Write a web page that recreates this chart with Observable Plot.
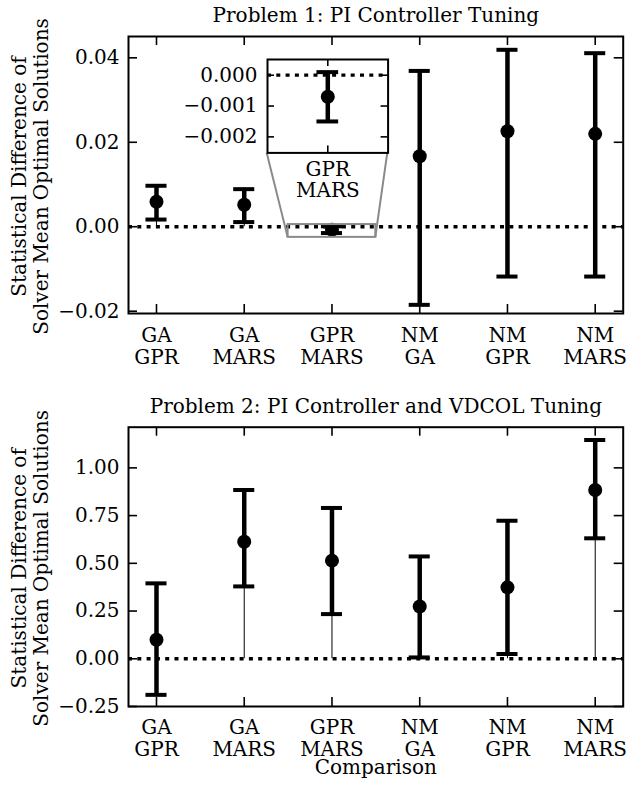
<!DOCTYPE html>
<html>
<head>
<meta charset="utf-8">
<script src="https://cdn.jsdelivr.net/npm/d3@7"></script>
<script src="https://cdn.jsdelivr.net/npm/@observablehq/plot@0.6"></script>
<style>
  body { margin: 0; background: #fff; }
  #wrap { position: relative; width: 629px; height: 789px; overflow: hidden; }
  #wrap svg { display: block; }
  #wrap svg, #wrap svg text { font-family: 'DejaVu Serif', serif !important; }
  #inset { position: absolute; }
</style>
</head>
<body>
<div id="wrap"></div>
<script>
// ---------- data ----------
const categories = ["GA\nGPR", "GA\nMARS", "GPR\nMARS", "NM\nGA", "NM\nGPR", "NM\nMARS"];
const p1Mean  = [0.0059, 0.0052, -0.0007, 0.0167, 0.0226, 0.0220];
const p1Lower = [0.0017, 0.0011, -0.0015, -0.0185, -0.0118, -0.0118];
const p1Upper = [0.0097, 0.0089, 0.0001, 0.0369, 0.0419, 0.0411];
const p2Mean  = [0.100, 0.613, 0.514, 0.274, 0.374, 0.884];
const p2Lower = [-0.189, 0.379, 0.234, 0.007, 0.025, 0.631];
const p2Upper = [0.395, 0.884, 0.790, 0.536, 0.723, 1.146];
const p1Ticks = [-0.02, 0, 0.02, 0.04];
const p2Ticks = [-0.25, 0, 0.25, 0.5, 0.75, 1.0];
const insetTicks = [-0.002, -0.001, 0];
const p1Domain = [-0.02055, 0.04505];
const p2Domain = [-0.25, 1.213];
const xDomain = [-0.319, 5.319];
const insetIndex = 2;
const insetXDomain = [1.5, 2.5];
const insetYDomain = [-0.00252, 0.00051];
const title1 = "Problem 1: PI Controller Tuning";
const title2 = "Problem 2: PI Controller and VDCOL Tuning";
const yLabel = "Statistical Difference of\nSolver Mean Optimal Solutions";
const xLabel = "Comparison";

const FONT = "DejaVu Serif";
const FS = 20;
const W = 629, ML = 128, MR = 6.3;
const idx = d3.range(categories.length);

function rows(mean, lo, hi) {
  return idx.map(i => ({i, mean: mean[i], lo: lo[i], hi: hi[i]}));
}
const data1 = rows(p1Mean, p1Lower, p1Upper);
const data2 = rows(p2Mean, p2Lower, p2Upper);

function errorMarks(data, capHalf) {
  return [
    Plot.ruleY([0], {stroke: "black", strokeWidth: 3.3, strokeDasharray: "4,5.3"}),
    Plot.ruleX(data.filter(d => d.lo > 0), {x: "i", y1: () => 0, y2: "lo", stroke: "black", strokeWidth: 1}),
    Plot.ruleX(data, {x: "i", y1: "lo", y2: "hi", stroke: "black", strokeWidth: 4.5}),
    Plot.ruleY(data, {y: "hi", x1: d => d.i - capHalf, x2: d => d.i + capHalf, stroke: "black", strokeWidth: 4}),
    Plot.ruleY(data, {y: "lo", x1: d => d.i - capHalf, x2: d => d.i + capHalf, stroke: "black", strokeWidth: 4}),
    Plot.dot(data, {x: "i", y: "mean", r: 7, fill: "black", stroke: "none"})
  ];
}

function tickMarks(yt, xt, fw, fh, len) {
  return [
    Plot.tickY(yt, {y: d => d, insetRight: fw - len, stroke: "black", strokeWidth: 1.6}),
    Plot.tickY(yt, {y: d => d, insetLeft: fw - len, stroke: "black", strokeWidth: 1.6}),
    Plot.tickX(xt, {x: d => d, insetBottom: fh - len, stroke: "black", strokeWidth: 1.6}),
    Plot.tickX(xt, {x: d => d, insetTop: fh - len, stroke: "black", strokeWidth: 1.6})
  ];
}

function panel({data, domain, ticks, fmt, title, height, mt, mb, titleDy, extra = [], showX, xPad}) {
  const fw = W - ML - MR, fh = height - mt - mb;
  return Plot.plot({
    width: W, height,
    marginLeft: ML, marginRight: MR, marginTop: mt, marginBottom: mb,
    style: {fontFamily: FONT, fontSize: FS + "px", color: "black", background: "transparent", overflow: "visible"},
    x: {domain: xDomain, axis: null},
    y: {domain, axis: null},
    marks: [
      ...errorMarks(data, 0.12),
      ...extra,
      ...tickMarks(ticks, idx, fw, fh, 9),
      Plot.frame({stroke: "black", strokeWidth: 2}),
      Plot.axisY(ticks, {tickSize: 0, tickPadding: 9, tickFormat: fmt, label: null, fontSize: FS, fontFamily: FONT}),
      Plot.axisX(idx, {tickSize: 0, tickPadding: xPad, tickFormat: i => categories[i], label: null, fontSize: FS, fontFamily: FONT, lineHeight: 1.1}),
      Plot.text([title], {frameAnchor: "top", dy: titleDy, lineAnchor: "bottom", fontSize: FS, fontFamily: FONT}),
      Plot.text([yLabel], {frameAnchor: "left", dx: -99, dy: 1.5, rotate: -90, textAnchor: "middle", lineAnchor: "middle", lineHeight: 1.1, fontSize: FS, fontFamily: FONT}),
      showX ? Plot.text([xLabel], {frameAnchor: "bottom", dy: 67.3, lineAnchor: "bottom", fontSize: FS, fontFamily: FONT}) : null
    ]
  });
}

const wrap = document.getElementById("wrap");

const top1 = panel({
  data: data1, domain: p1Domain, ticks: p1Ticks, fmt: d3.format(".2f"), title: title1,
  height: 380, mt: 36, mb: 67, titleDy: -15, xPad: 13,
  extra: [
    Plot.rect([{x1: insetXDomain[0], x2: insetXDomain[1], y1: insetYDomain[0], y2: insetYDomain[1]}],
      {x1: "x1", x2: "x2", y1: "y1", y2: "y2", fill: "none", stroke: "#8a8a8a", strokeWidth: 2})
  ]
});
wrap.appendChild(top1);

const bottom2 = panel({
  data: data2, domain: p2Domain, ticks: p2Ticks, fmt: d3.format(".2f"), title: title2,
  height: 409, mt: 46.7, mb: 83, titleDy: -14, showX: true, xPad: 11.5
});
wrap.appendChild(bottom2);

// ---------- inset ----------
const IML = 80, IMT = 10, IMR = 10, IMB = 50, IFW = 120.6, IFH = 93.4;
const insetLeft = 266.7 - IML, insetTop = 59.3 - IMT;
const insetData = [data1[insetIndex]];
const inset = Plot.plot({
  width: IML + IFW + IMR, height: IMT + IFH + IMB,
  marginLeft: IML, marginTop: IMT, marginRight: IMR, marginBottom: IMB,
  style: {fontFamily: FONT, fontSize: FS + "px", color: "black", background: "transparent", overflow: "visible"},
  x: {domain: insetXDomain, axis: null},
  y: {domain: insetYDomain, axis: null},
  marks: [
    Plot.frame({fill: "white", stroke: "none"}),
    ...errorMarks(insetData, 0.09),
    ...tickMarks(insetTicks, [insetIndex], IFW, IFH, 7),
    Plot.frame({stroke: "black", strokeWidth: 2}),
    Plot.axisY(insetTicks, {tickSize: 0, tickPadding: 10, tickFormat: d3.format(".3f"), label: null, fontSize: FS, fontFamily: FONT}),
    Plot.axisX([insetIndex], {tickSize: 0, tickPadding: 8, tickFormat: i => categories[i], label: null, fontSize: FS, fontFamily: FONT, lineHeight: 1.05})
  ]
});
inset.id = "inset";
inset.style.left = insetLeft + "px";
inset.style.top = insetTop + "px";
wrap.appendChild(inset);

// connector lines from inset corners to the zoom rectangle (via main scales)
const xs = top1.scale("x"), ys = top1.scale("y");
const rxL = xs.apply(insetXDomain[0]), rxR = xs.apply(insetXDomain[1]), ryB = ys.apply(insetYDomain[0]);
const ixL = insetLeft + IML, ixR = insetLeft + IML + IFW, iyB = insetTop + IMT + IFH;
const sel = d3.select(top1);
[[ixL, rxL], [ixR, rxR]].forEach(([a, b]) => {
  sel.append("line").attr("x1", a).attr("y1", iyB).attr("x2", b).attr("y2", ryB)
    .attr("stroke", "#8a8a8a").attr("stroke-width", 2);
});
</script>
</body>
</html>
